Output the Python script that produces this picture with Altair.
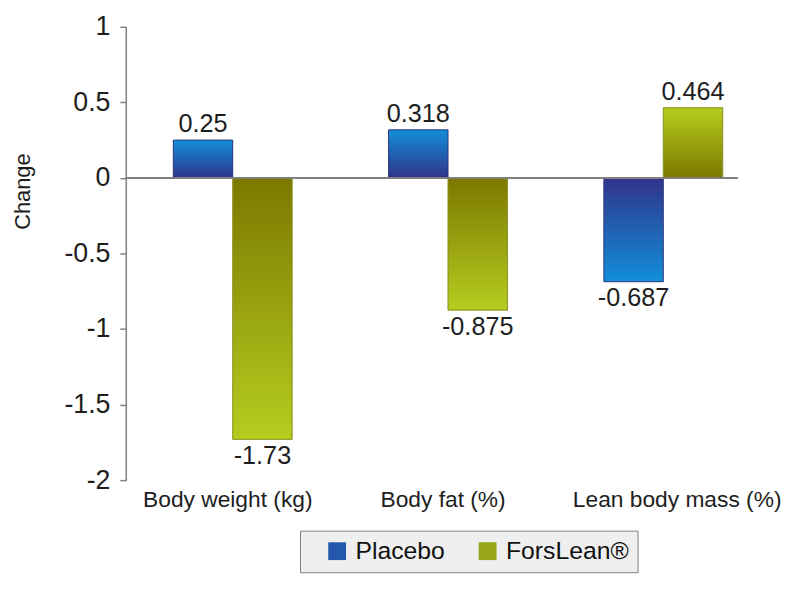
import altair as alt
import pandas as pd

categories = ["Body weight (kg)", "Body fat (%)", "Lean body mass (%)"]
series = ["Placebo", "ForsLean®"]
placebo = [0.25, 0.318, -0.687]
forslean = [-1.73, -0.875, 0.464]
y_ticks = [1, 0.5, 0, -0.5, -1, -1.5, -2]

rows = []
for c, p, f in zip(categories, placebo, forslean):
    rows.append({"category": c, "series": series[0], "value": p})
    rows.append({"category": c, "series": series[1], "value": f})
df = pd.DataFrame(rows)
df["label"] = df["value"].map(lambda v: f"{v:g}")

FONT = "Liberation Sans"
TXT = "#1e1e1e"
AX = "#808080"


def grad(dark, light, positive):
    return {
        "gradient": "linear",
        "x1": 0, "x2": 0,
        "y1": 1 if positive else 0,
        "y2": 0 if positive else 1,
        "stops": [{"offset": 0, "color": dark}, {"offset": 1, "color": light}],
    }


BLUE_D, BLUE_L = "#31338a", "#118fd9"
OLV_D, OLV_L = "#7c7800", "#b5cd1f"

x_enc = alt.X(
    "category:N",
    sort=categories,
    scale=alt.Scale(range=[48, 603], paddingInner=0.448, paddingOuter=0),
    axis=alt.Axis(
        title=None, labelAngle=0, domain=False, ticks=False,
        labelFontSize=23, labelFont=FONT, labelColor=TXT, labelPadding=9,
        labelLimit=0, labelBound=False,
        labelOffset={"condition": {"test": "datum.value == 'Lean body mass (%)'", "value": 14}, "value": -5},
    ),
)
xo_enc = alt.XOffset("series:N", sort=series, scale=alt.Scale(domain=series, paddingInner=0, paddingOuter=0))
y_enc = alt.Y(
    "value:Q",
    scale=alt.Scale(domain=[-2, 1], nice=False, zero=False),
    axis=alt.Axis(
        values=y_ticks, labelExpr="datum.value + ''", grid=False,
        domainColor=AX, domainWidth=1.5, tickColor=AX, tickWidth=1.5, tickSize=6,
        labelFontSize=27, labelFont=FONT, labelColor=TXT, labelPadding=10,
        title="Change", titleFontSize=22, titleFont=FONT, titleColor=TXT,
        titleFontWeight="normal", titleX=-97, titleY=166, titleAngle=-90,
        titleAlign="center", titleBaseline="alphabetic",
    ),
)

base = alt.Chart(df)

bars = []
for s, dark, light, stroke in [(series[0], BLUE_D, BLUE_L, "#2a3478"), (series[1], OLV_D, OLV_L, "#8a8e1c")]:
    for positive in (True, False):
        cond = f"datum.series == '{s}' && datum.value {'>=' if positive else '<'} 0"
        bars.append(
            base.transform_filter(cond)
            .mark_bar(fill=grad(dark, light, positive), stroke=stroke, strokeWidth=1)
            .encode(x=x_enc, xOffset=xo_enc, y=y_enc, y2=alt.datum(0))
        )

zero = base.mark_rule(color=AX, strokeWidth=1.5).encode(y=alt.datum(0))

lab_pos = (
    base.transform_filter("datum.value >= 0")
    .mark_text(baseline="alphabetic", dy=-8, fontSize=25.5, font=FONT, color=TXT)
    .encode(x=x_enc, xOffset=xo_enc, y=y_enc, text="label:N")
)
lab_neg = (
    base.transform_filter("datum.value < 0")
    .mark_text(baseline="top", dy=5, fontSize=25.5, font=FONT, color=TXT)
    .encode(x=x_enc, xOffset=xo_enc, y=y_enc, text="label:N")
)

legend_layer = base.mark_point(shape="square", filled=True, opacity=0).encode(
    x=x_enc, xOffset=xo_enc, y=y_enc,
    color=alt.Color(
        "series:N", sort=series,
        scale=alt.Scale(domain=series, range=["#2458ad", "#98a71a"]),
        legend=alt.Legend(
            orient="none", legendX=176, legendY=509, direction="horizontal",
            title=" ", titleOrient="left", titleFontSize=2, titlePadding=17,
            fillColor="#efefef", strokeColor=AX, padding=8,
            symbolType="square", symbolSize=324, symbolOpacity=1, symbolStrokeWidth=0,
            labelFontSize=25, labelFont=FONT, labelColor="#111", labelOffset=6,
            columnPadding=30, labelLimit=0,
        ),
    ),
)

chart = (
    alt.layer(*bars, zero, lab_pos, lab_neg, legend_layer)
    .properties(
        width=618, height=458,
        autosize=alt.AutoSizeParams(type="none"),
        padding={"left": 119, "top": 16, "right": 55, "bottom": 108},
        background="white",
    )
    .configure_view(stroke=None)
)

chart.save("out.html", embed_options={"renderer": "svg", "actions": False})
